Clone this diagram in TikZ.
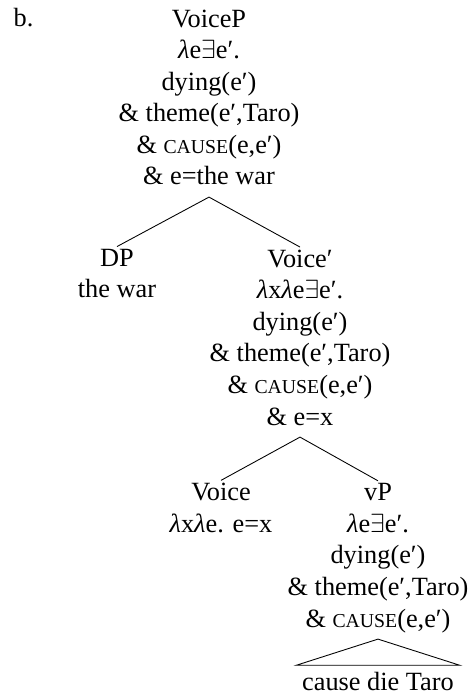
\documentclass[tikz,border=0pt]{standalone}
\usepackage{fontspec}
\setmainfont{Liberation Serif}
\newcommand\lamb{\textit{λ}}
\newcommand\exst{\ensuremath{\exists}}
\newcommand\smcap[1]{{\fontsize{9}{14.4}\selectfont #1}}
\tikzset{
  treenode/.style={align=center, inner sep=1pt, anchor=base,
        font=\fontsize{12}{14.4}\selectfont,
        execute at begin node=\strut, execute at end node=\strut},
  branch/.style={line width=0.4pt}
}

\begin{document}
\begin{tikzpicture}[x=0.456pt, y=-0.456pt]
  \useasboundingbox (0,0) rectangle (471,693);
  % example label
  \node[treenode, anchor=base west] (exlabel) at (11,27) {b.};
  % root (placed at the baseline of its last line)
  \node[treenode] (voicep) at (209,185)
    {VoiceP\\ \lamb e\exst e′.\\ dying(e′)\\ \& theme(e′,Taro)\\
     \& \smcap{CAUSE}(e,e′)\\ \& e=the war};
  % first level
  \node[treenode] (dp) at (117,298) {DP\\ the war};
  \node[treenode] (voicebar) at (300,425)
    {Voice′\\ \lamb x\lamb e\exst e′.\\ dying(e′)\\ \& theme(e′,Taro)\\
     \& \smcap{CAUSE}(e,e′)\\ \& e=x};
  % second level
  \node[treenode] (voice) at (221,532) {Voice\\ \lamb x\lamb e. e=x};
  \node[treenode] (vp) at (378,627)
    {vP\\ \lamb e\exst e′.\\ dying(e′)\\ \& theme(e′,Taro)\\
     \& \smcap{CAUSE}(e,e′)};
  % terminal string under the triangle
  \node[treenode, inner xsep=2.5pt] (leaf) at (378,690) {cause die Taro};

  \draw[branch] (dp.north) -- (voicep.south) -- (voicebar.north);
  \draw[branch] (voice.north) -- (voicebar.south) -- (vp.north);
  \draw[branch] (vp.south) -- (leaf.north west) -- (leaf.north east) -- cycle;
\end{tikzpicture}
\end{document}
